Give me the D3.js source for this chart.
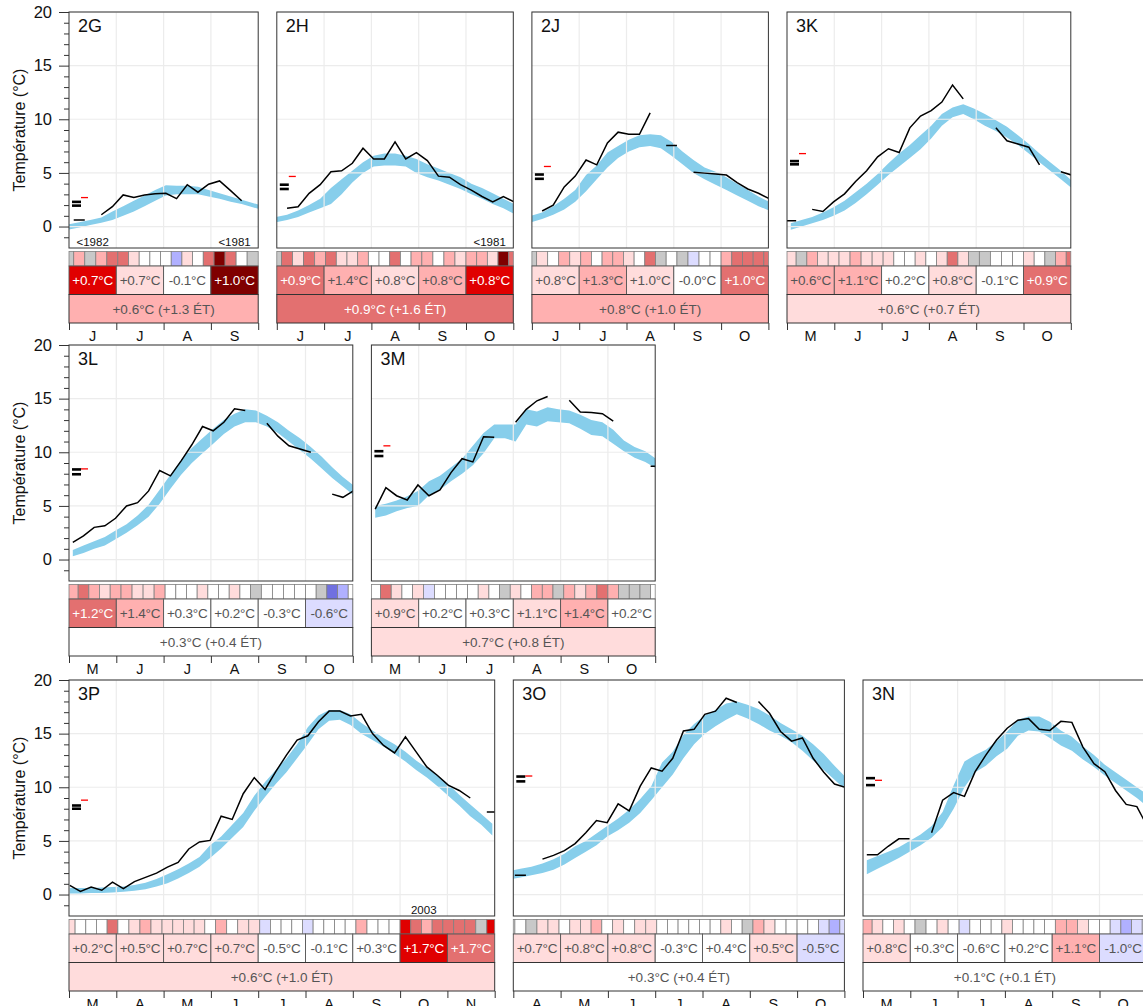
<!DOCTYPE html>
<html>
<head>
<meta charset="utf-8">
<script src="https://cdn.jsdelivr.net/npm/d3@7"></script>
<style>
body { margin: 0; background: #fff; }
text { font-family: "Liberation Sans", Arial, Helvetica, sans-serif; }
</style>
</head>
<body>
<div id="chart"></div>
<script>
// panels, in drawing order
var panelNames = ["2G", "2H", "2J", "3K", "3L", "3M", "3P", "3O", "3N"];
var panelFirstMonth = [6, 6, 6, 5, 5, 5, 3, 4, 5];
var panelMonths = [4, 5, 5, 6, 6, 6, 9, 7, 6];
var panelRow = [0, 0, 0, 0, 1, 1, 2, 2, 2];
var monthLetters = ["J", "F", "M", "A", "M", "J", "J", "A", "S", "O", "N", "D"];
var yTicks = [0, 5, 10, 15, 20];

// weekly climatology band (low / high), one value per week
var bandLow = [
  [-0.3, -0.1, 0.15, 0.35, 0.6, 1.0, 1.4, 1.9, 2.4, 2.9, 3.0, 3.0, 3.0, 2.8, 2.6, 2.3, 2.1, 1.8, 1.5],
  [0.4, 0.6, 0.9, 1.3, 1.7, 2.1, 3.0, 4.1, 5.0, 5.6, 5.7, 5.7, 5.6, 5.0, 4.6, 4.3, 3.9, 3.5, 3.0, 2.6, 2.1, 1.7, 1.2],
  [0.4, 0.7, 1.1, 1.6, 2.3, 3.3, 4.4, 5.5, 6.4, 7.0, 7.4, 7.5, 7.3, 6.6, 5.8, 5.0, 4.4, 3.9, 3.4, 2.9, 2.4, 1.9, 1.5],
  [-0.3, 0.0, 0.3, 0.6, 1.0, 1.5, 2.2, 3.0, 3.9, 4.8, 5.6, 6.4, 7.2, 8.2, 9.4, 10.2, 10.5, 10.0, 9.4, 8.9, 8.3, 7.6, 6.8, 6.0, 5.2, 4.4, 3.6],
  [0.3, 0.6, 1.0, 1.3, 1.9, 2.5, 3.2, 4.0, 5.2, 6.6, 7.9, 9.0, 9.9, 10.8, 11.7, 12.4, 12.8, 12.8, 12.4, 11.8, 11.0, 10.2, 9.4, 8.5, 7.6, 6.8, 6.0],
  [3.9, 4.1, 4.5, 4.8, 5.0, 6.0, 6.5, 7.3, 8.0, 8.8, 9.9, 11.3, 11.3, 11.0, 12.6, 12.4, 12.9, 12.8, 12.7, 12.2, 11.6, 11.5, 10.8, 10.1, 9.5, 9.1, 8.5],
  [0.1, 0.1, 0.15, 0.15, 0.2, 0.25, 0.35, 0.5, 0.75, 1.05, 1.5, 2.0, 2.6, 3.4, 4.3, 5.3, 6.3, 7.8, 9.1, 10.3, 11.4, 12.7, 14.0, 15.4, 16.2, 16.3, 15.8, 15.0, 14.4, 13.8, 13.1, 12.4, 11.6, 10.9, 10.1, 9.2, 8.3, 7.3, 6.5, 5.5],
  [1.4, 1.6, 1.8, 2.0, 2.3, 2.8, 3.4, 4.0, 4.6, 5.4, 6.0, 6.7, 7.6, 8.8, 10.0, 11.2, 12.7, 14.0, 15.0, 15.7, 16.3, 16.8, 16.4, 15.9, 15.3, 14.8, 14.2, 13.4, 12.5, 11.6, 10.7, 9.8],
  [1.9, 2.4, 2.9, 3.4, 4.0, 4.6, 5.3, 6.3, 8.0, 10.0, 11.4, 12.0, 12.9, 13.6, 14.8, 15.3, 15.2, 14.6, 13.9, 13.4, 12.6, 11.9, 11.1, 10.4, 9.7, 9.0, 8.2]
];
var bandHigh = [
  [0.2, 0.4, 0.6, 0.85, 1.4, 1.9, 2.4, 2.9, 3.4, 3.85, 3.8, 3.8, 3.7, 3.4, 3.1, 2.8, 2.5, 2.2, 1.9],
  [0.9, 1.1, 1.5, 2.0, 2.6, 3.6, 4.4, 5.2, 6.0, 6.6, 6.8, 6.8, 6.6, 6.3, 5.8, 5.4, 5.0, 4.6, 4.0, 3.6, 3.1, 2.6, 2.1],
  [1.0, 1.3, 1.9, 2.6, 3.4, 4.8, 5.7, 6.9, 7.5, 8.1, 8.5, 8.6, 8.5, 7.9, 7.0, 6.2, 5.5, 5.1, 4.6, 4.0, 3.4, 2.8, 2.3],
  [0.3, 0.6, 0.9, 1.3, 1.8, 2.4, 3.2, 4.0, 4.9, 5.9, 6.8, 7.6, 8.5, 9.4, 10.5, 11.1, 11.4, 11.0, 10.5, 9.9, 9.3, 8.5, 7.7, 6.8, 6.0, 5.2, 4.3],
  [0.9, 1.3, 1.7, 2.1, 2.7, 3.3, 4.1, 5.1, 6.5, 7.9, 9.3, 10.4, 11.3, 12.2, 13.0, 13.6, 14.0, 13.9, 13.4, 12.8, 12.0, 11.3, 10.5, 9.6, 8.6, 7.7, 6.9],
  [5.0, 5.2, 5.5, 5.9, 6.4, 7.3, 7.8, 8.6, 9.4, 10.6, 11.8, 12.6, 12.6, 12.6, 14.0, 13.8, 14.2, 14.0, 13.9, 13.5, 13.0, 12.8, 12.1, 11.1, 10.5, 10.1, 9.4],
  [0.6, 0.6, 0.6, 0.65, 0.7, 0.75, 0.9, 1.1, 1.45, 1.9, 2.35, 2.9, 3.5, 4.6, 5.4, 6.5, 7.6, 9.2, 10.5, 11.6, 12.7, 14.0, 15.6, 16.7, 17.2, 17.2, 16.8, 16.0, 15.3, 14.6, 14.0, 13.3, 12.5, 11.8, 11.1, 10.3, 9.3, 8.4, 7.5, 6.6],
  [2.2, 2.4, 2.6, 2.9, 3.3, 3.8, 4.5, 5.0, 5.7, 6.4, 7.1, 7.9, 8.9, 10.1, 12.3, 13.3, 14.9, 15.9, 16.7, 17.2, 17.8, 18.0, 17.7, 17.3, 16.7, 16.0, 15.4, 14.8, 14.0, 13.1, 12.0, 11.0],
  [3.2, 3.6, 4.0, 4.4, 5.0, 5.6, 6.4, 7.7, 10.2, 12.4, 13.0, 13.5, 14.3, 15.2, 16.3, 16.6, 16.6, 16.1, 15.3, 14.7, 13.8, 13.0, 12.1, 11.4, 10.7, 10.0, 9.3]
];

// weekly observed temperature (null = missing)
var observed = [
  [null, 0.6, null, 1.1, 1.85, 2.95, 2.7, 2.95, 3.05, 3.1, 2.6, 3.9, 3.2, 3.95, 4.25, 3.35, 2.4, null],
  [null, 1.7, 1.85, 3.1, 3.9, 5.1, 5.2, 5.9, 7.3, 6.3, 6.3, 7.9, 6.3, 6.9, 6.15, 4.7, 4.6, 3.9, 3.4, 2.8, 2.3, 2.8, 2.3],
  [null, 1.45, 2.0, 3.7, 4.7, 6.2, 5.75, 7.8, 8.8, 8.6, 8.6, 10.6, null, 7.55, null, 5.07, 4.98, 4.9, 4.8, 4.1, 3.5, 3.1, 2.6],
  [0.53, null, 1.6, 1.4, 2.3, 3.05, 4.2, 5.2, 6.5, 7.25, 6.9, 9.2, 10.3, 10.8, 11.6, 13.2, 11.9, null, null, 9.2, 8.0, 7.7, 7.4, 5.75, null, 5.1, 4.8],
  [1.6, 2.2, 3.0, 3.15, 3.85, 5.0, 5.3, 6.4, 8.3, 7.8, 9.2, 10.7, 12.4, 12.0, 12.8, 14.05, 13.9, null, 12.7, 11.5, 10.6, 10.3, 10.0, null, 6.1, 5.8, 6.4],
  [4.7, 6.7, 5.95, 5.55, 6.95, 5.95, 6.5, 8.1, 9.4, 9.1, 11.45, 11.4, null, 12.8, 14.0, 14.8, 15.2, null, 14.85, 13.75, 13.7, 13.6, 12.9, null, null, null, 8.7],
  [0.85, 0.3, 0.7, 0.4, 1.15, 0.55, 1.2, 1.6, 2.0, 2.55, 3.0, 4.25, 4.9, 5.05, 7.3, 7.0, 9.4, 10.9, 9.8, 11.45, 13.0, 14.4, 14.8, 16.1, 17.1, 17.1, 16.65, 16.8, 15.0, 13.9, 13.2, 14.7, 13.3, 11.9, 11.1, 10.2, 9.7, 9.0, null, 7.7],
  [null, 1.8, null, 3.3, 3.65, 4.1, 4.75, 5.75, 6.9, 6.7, 8.45, 7.8, 10.1, 11.8, 11.5, 12.7, 15.25, 15.4, 16.8, 17.1, 18.3, 17.9, null, 18.0, 16.9, 15.2, 14.3, 14.6, 12.7, 11.4, 10.3, 10.0],
  [3.7, 3.7, 4.5, 5.2, 5.2, null, 5.75, 8.8, 9.5, 9.15, 11.45, 13.0, 14.4, 15.5, 16.25, 16.4, 15.4, 15.3, 16.15, 16.05, 13.75, 12.2, 11.45, 9.7, 8.4, 8.2, 6.3]
];

// weekly anomaly class (-3 .. 5, null = no data)
var weekClass = [
  [null, 2, null, 2, 3, 3, 1, 0, 0, 0, -2, 1, 0, 3, 5, 3, 0, null],
  [null, 3, 1, 3, 2, 3, 1, 1, 2, 0, 0, 3, 0, 2, 2, 0, 2, 1, 2, 2, 1, 5, 3],
  [null, 1, 0, 2, 1, 2, 0, 2, 2, 1, 0, 3, null, 0, null, -1, 0, 0, 2, 3, 3, 3, 3],
  [1, null, 2, 1, 1, 1, 2, 1, 1, 1, 0, 0, 1, 0, 1, 3, 1, null, null, 0, 0, 0, 1, 0, null, 2, 3],
  [2, 3, 2, 1, 2, 2, 1, 1, 2, 0, 0, 0, 1, 0, 0, 1, 0, null, 0, 0, 0, 0, 0, null, -3, -2, 0],
  [0, 3, 1, 0, 1, -1, 0, 0, 0, 0, 1, 0, null, 1, 0, 2, 2, null, 2, 1, 2, 3, 2, null, null, null, 0],
  [1, 0, 0, 0, 3, 0, 1, 2, 1, 1, 1, 1, 1, 0, 2, 0, 1, 1, -1, 0, 0, 0, -1, 0, 0, 0, 0, 2, 0, 0, 0, 4, 3, 2, 3, 3, 3, 3, null, 4],
  [0, 0, null, 1, 1, 0, 1, 1, 2, 0, 1, 0, 1, 1, 0, 0, 0, 0, 0, 0, 1, 0, null, 2, 1, 0, 0, 0, 0, -1, -2, -1],
  [2, 1, 0, 1, 0, null, 0, 1, 0, -1, 0, 0, 0, 1, 0, 0, 0, 0, 2, 2, 1, 0, 0, -1, -2, -1, -1]
];

// monthly anomalies
var monthLabels = [
  ["+0.7°C", "+0.7°C", "-0.1°C", "+1.0°C"],
  ["+0.9°C", "+1.4°C", "+0.8°C", "+0.8°C", "+0.8°C"],
  ["+0.8°C", "+1.3°C", "+1.0°C", "-0.0°C", "+1.0°C"],
  ["+0.6°C", "+1.1°C", "+0.2°C", "+0.8°C", "-0.1°C", "+0.9°C"],
  ["+1.2°C", "+1.4°C", "+0.3°C", "+0.2°C", "-0.3°C", "-0.6°C"],
  ["+0.9°C", "+0.2°C", "+0.3°C", "+1.1°C", "+1.4°C", "+0.2°C"],
  ["+0.2°C", "+0.5°C", "+0.7°C", "+0.7°C", "-0.5°C", "-0.1°C", "+0.3°C", "+1.7°C", "+1.7°C"],
  ["+0.7°C", "+0.8°C", "+0.8°C", "-0.3°C", "+0.4°C", "+0.5°C", "-0.5°C"],
  ["+0.8°C", "+0.3°C", "-0.6°C", "+0.2°C", "+1.1°C", "-1.0°C"]
];
var monthClass = [
  [4, 1, 0, 5],
  [3, 2, 1, 2, 4],
  [1, 2, 1, 0, 3],
  [2, 2, 0, 1, 0, 3],
  [3, 2, 0, 0, 0, -1],
  [1, 0, 0, 1, 2, 0],
  [1, 1, 1, 1, 0, 0, 0, 4, 3],
  [1, 1, 1, 0, 0, 1, -1],
  [1, 0, 0, 0, 2, -1]
];

// season totals
var totalLabels = ["+0.6°C (+1.3 ÉT)", "+0.9°C (+1.6 ÉT)", "+0.8°C (+1.0 ÉT)", "+0.6°C (+0.7 ÉT)",
  "+0.3°C (+0.4 ÉT)", "+0.7°C (+0.8 ÉT)", "+0.6°C (+1.0 ÉT)", "+0.3°C (+0.4 ÉT)", "+0.1°C (+0.1 ÉT)"];
var totalClass = [2, 3, 2, 1, 0, 1, 1, 0, 0];

// season means (two black marks, one red mark)
var meanBlack = [[2.3, 1.95], [3.9, 3.5], [4.85, 4.45], [6.1, 5.8], [8.4, 7.95], [10.1, 9.65], [8.3, 8.0], [11.0, 10.55], [10.85, 10.2]];
var meanRed = [2.7, 4.67, 5.6, 6.8, 8.45, 10.6, 8.8, 11.05, 10.65];

// record-year notes: panel, month index in panel, text
var notePanel = [0, 0, 1, 6];
var noteMonth = [0, 3, 4, 7];
var noteText = ["<1982", "<1981", "<1981", "2003"];

var width = 1143, height = 1006;
var monthW = 47.3, gap = 18.6, plotH = 236;
var rowTop = [12, 345, 680];
var monthStart = [0, 31, 59, 90, 120, 151, 181, 212, 243, 273, 304, 334, 365];
var sqH = 14.5, moH = 28.5, toH = 28.5;

var palette = {"-3": "#7070e0", "-2": "#b0b0ff", "-1": "#dcdcff", "0": "#ffffff",
  "1": "#ffdcdc", "2": "#ffb0b0", "3": "#e37070", "4": "#e00000", "5": "#7f0000"};
function fillOf(c) { return c === null ? "#c8c8c8" : palette[c]; }
function inkOf(c) { return (c !== null && (c >= 3 || c <= -3)) ? "#ffffff" : "#555555"; }

var svg = d3.select("#chart").append("svg")
  .attr("width", width)
  .attr("height", height);

svg.append("rect").attr("width", width).attr("height", height).attr("fill", "#fff");

var cursor = [69, 69, 69];

panelNames.forEach(function(name, p) {
  var row = panelRow[p];
  var left = cursor[row];
  var nm = panelMonths[p];
  var w = nm * monthW;
  cursor[row] += w + gap;
  var top = rowTop[row];
  var m0 = panelFirstMonth[p] - 1;
  var dom = monthStart.slice(m0, m0 + nm + 1);

  var x = d3.scaleLinear()
    .domain(dom)
    .range(dom.map(function(d, i) { return left + i * monthW; }));
  var y = d3.scaleLinear().domain([-2, 20]).range([top + plotH, top]);
  var wk0 = Math.floor(dom[0] / 7) * 7;

  var g = svg.append("g");

  g.append("clipPath").attr("id", "clip" + p)
    .append("rect").attr("x", left).attr("y", top).attr("width", w).attr("height", plotH);

  // band
  var band = bandLow[p].map(function(lo, k) { return {d: wk0 + 7 * k + 3.5, lo: lo, hi: bandHigh[p][k]}; });
  g.append("path")
    .datum(band)
    .attr("clip-path", "url(#clip" + p + ")")
    .attr("fill", "#87ceeb")
    .attr("d", d3.area()
      .x(function(d) { return x(d.d); })
      .y0(function(d) { return y(d.lo); })
      .y1(function(d) { return y(d.hi); }));

  // grid
  g.selectAll(".hg").data(yTicks).enter().append("line")
    .attr("x1", left).attr("x2", left + w)
    .attr("y1", function(d) { return y(d); }).attr("y2", function(d) { return y(d); })
    .attr("stroke", "#ececec").attr("stroke-width", 1.2);
  g.selectAll(".vg").data(dom.slice(1, -1)).enter().append("line")
    .attr("x1", function(d) { return x(d); }).attr("x2", function(d) { return x(d); })
    .attr("y1", top).attr("y2", top + plotH)
    .attr("stroke", "#ececec").attr("stroke-width", 1.2);

  // observed
  var obs = observed[p].map(function(v, k) { return {s: wk0 + 7 * k, d: wk0 + 7 * k + 3.5, v: v}; });
  var gl = g.append("g").attr("clip-path", "url(#clip" + p + ")");
  gl.append("path")
    .datum(obs)
    .attr("fill", "none")
    .attr("stroke", "#000")
    .attr("stroke-width", 1.5)
    .attr("d", d3.line()
      .defined(function(d) { return d.v !== null; })
      .x(function(d) { return x(d.d); })
      .y(function(d) { return y(d.v); }));
  var lone = obs.filter(function(d, k) {
    return d.v !== null && (k === 0 || obs[k - 1].v === null) && (k === obs.length - 1 || obs[k + 1].v === null);
  });
  gl.selectAll(".lone").data(lone).enter().append("line")
    .attr("x1", function(d) { return x(d.s); }).attr("x2", function(d) { return x(d.s + 7); })
    .attr("y1", function(d) { return y(d.v); }).attr("y2", function(d) { return y(d.v); })
    .attr("stroke", "#000").attr("stroke-width", 1.5);

  // season means
  g.selectAll(".mb").data(meanBlack[p]).enter().append("line")
    .attr("x1", left + 3).attr("x2", left + 12)
    .attr("y1", function(d) { return y(d); }).attr("y2", function(d) { return y(d); })
    .attr("stroke", "#000").attr("stroke-width", 2.6);
  g.append("line")
    .attr("x1", left + 12).attr("x2", left + 19)
    .attr("y1", y(meanRed[p])).attr("y2", y(meanRed[p]))
    .attr("stroke", "#ff0000").attr("stroke-width", 1.3);

  // notes
  notePanel.forEach(function(np, i) {
    if (np !== p) return;
    g.append("text")
      .attr("x", (x(dom[noteMonth[i]]) + x(dom[noteMonth[i] + 1])) / 2)
      .attr("y", top + plotH - 2)
      .attr("text-anchor", "middle")
      .attr("font-size", 11.5)
      .attr("fill", "#111")
      .text(noteText[i]);
  });

  g.append("rect")
    .attr("x", left).attr("y", top).attr("width", w).attr("height", plotH)
    .attr("fill", "none").attr("stroke", "#333").attr("stroke-width", 1);

  g.append("text")
    .attr("x", left + 9).attr("y", top + 20)
    .attr("font-size", 18)
    .attr("fill", "#111")
    .text(name);

  // weekly strip
  var sqTop = top + plotH + 3.5;
  var weeks = weekClass[p].map(function(c, k) {
    var s = wk0 + 7 * k;
    return {c: c, x0: Math.max(x(s), left), x1: Math.min(x(s + 7), left + w)};
  });
  g.selectAll(".wk").data(weeks).enter().append("rect")
    .attr("x", function(d) { return d.x0; })
    .attr("y", sqTop)
    .attr("width", function(d) { return Math.max(0, d.x1 - d.x0); })
    .attr("height", sqH)
    .attr("fill", function(d) { return fillOf(d.c); })
    .attr("stroke", "#808080").attr("stroke-width", 0.8);

  var moTop = sqTop + sqH;
  var months = monthLabels[p].map(function(t, i) {
    return {t: t, c: monthClass[p][i], x0: x(dom[i]), x1: x(dom[i + 1])};
  });
  g.selectAll(".mo").data(months).enter().append("rect")
    .attr("x", function(d) { return d.x0; })
    .attr("y", moTop)
    .attr("width", function(d) { return d.x1 - d.x0; })
    .attr("height", moH)
    .attr("fill", function(d) { return fillOf(d.c); })
    .attr("stroke", "#555").attr("stroke-width", 0.9);
  g.selectAll(".mot").data(months).enter().append("text")
    .attr("x", function(d) { return (d.x0 + d.x1) / 2; })
    .attr("y", moTop + moH / 2)
    .attr("dy", "0.36em")
    .attr("text-anchor", "middle")
    .attr("font-size", 13.5)
    .attr("letter-spacing", "-0.2px")
    .attr("fill", function(d) { return inkOf(d.c); })
    .text(function(d) { return d.t; });

  var toTop = moTop + moH;
  g.append("rect")
    .attr("x", left).attr("y", toTop).attr("width", w).attr("height", toH)
    .attr("fill", fillOf(totalClass[p]))
    .attr("stroke", "#333").attr("stroke-width", 1);
  g.append("text")
    .attr("x", left + w / 2).attr("y", toTop + toH / 2)
    .attr("dy", "0.36em")
    .attr("text-anchor", "middle")
    .attr("font-size", 13.5)
    .attr("fill", inkOf(totalClass[p]))
    .text(totalLabels[p]);

  // month axis
  var ax = g.append("g")
    .attr("transform", "translate(0," + (toTop + toH) + ")")
    .call(d3.axisBottom(x).tickValues(dom).tickSize(7).tickFormat(""));
  ax.select(".domain").remove();
  ax.selectAll(".tick line").attr("stroke", "#333");
  g.selectAll(".ml").data(months).enter().append("text")
    .attr("x", function(d) { return (d.x0 + d.x1) / 2; })
    .attr("y", toTop + toH + 18)
    .attr("text-anchor", "middle")
    .attr("font-size", 14.5)
    .attr("fill", "#111")
    .text(function(d, i) { return monthLetters[m0 + i]; });

  // y axis on first panel of row
  if (left === 69) {
    var ya = g.append("g")
      .attr("transform", "translate(" + left + ",0)")
      .call(d3.axisLeft(y).tickValues(yTicks).tickSize(10).tickPadding(7));
    ya.select(".domain").remove();
    ya.selectAll("text").attr("font-size", 16.5).attr("fill", "#111")
      .style("font-family", "'Liberation Sans', Arial, sans-serif");
    ya.selectAll(".tick line").attr("stroke", "#333");
    var ym = g.append("g")
      .attr("transform", "translate(" + left + ",0)")
      .call(d3.axisLeft(y).tickValues(d3.range(-1, 20).filter(function(v) { return v % 5 !== 0; })).tickSize(5).tickFormat(""));
    ym.select(".domain").remove();
    ym.selectAll(".tick line").attr("stroke", "#333");
    g.append("text")
      .attr("transform", "translate(19," + (top + plotH / 2) + ") rotate(-90)")
      .attr("dy", "0.36em")
      .attr("text-anchor", "middle")
      .attr("font-size", 16)
      .attr("fill", "#111")
      .text("Température (°C)");
  }
});
</script>
</body>
</html>
